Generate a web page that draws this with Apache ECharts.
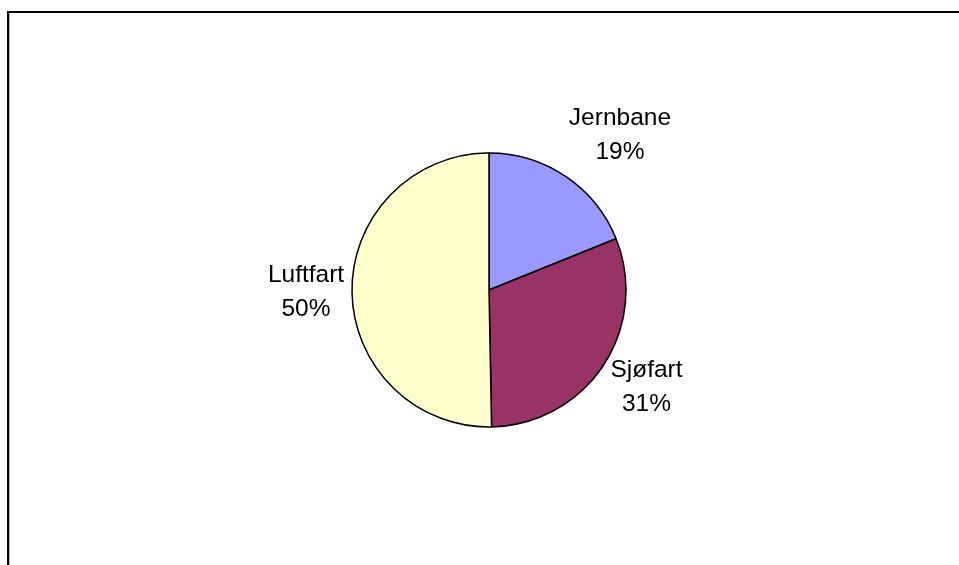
<!DOCTYPE html>
<html>
<head>
<meta charset="utf-8">
<script src="https://cdn.jsdelivr.net/npm/echarts@6/dist/echarts.min.js"></script>
<style>
html,body{margin:0;padding:0;background:#fff;}
#main{width:959px;height:565px;}
</style>
</head>
<body>
<div id="main"></div>
<script>
const categories = ['Jernbane', 'Sjøfart', 'Luftfart'];
const values = [18.9, 30.8, 50.3];
const colors = ['#9999FF', '#993366', '#FFFFCC'];
// label nudges (style only)
const labelDx = [28, 4, 1];
const labelDy = [-2, -4, 1];

const chart = echarts.init(document.getElementById('main'), null, {renderer: 'canvas'});
chart.setOption({
  backgroundColor: '#ffffff',
  animation: false,
  graphic: [
    {type: 'line', shape: {x1: 7, y1: 12, x2: 959, y2: 12}, style: {stroke: '#000', lineWidth: 2}},
    {type: 'line', shape: {x1: 8, y1: 11, x2: 8, y2: 565}, style: {stroke: '#000', lineWidth: 2}},
    {type: 'line', shape: {x1: 9.5, y1: 13, x2: 9.5, y2: 565}, style: {stroke: '#bbbbbb', lineWidth: 1}}
  ],
  series: [{
    type: 'pie',
    center: [489, 290],
    radius: 137,
    startAngle: 90,
    clockwise: true,
    percentPrecision: 0,
    avoidLabelOverlap: false,
    itemStyle: {borderColor: '#000', borderWidth: 1.5},
    emphasis: {disabled: true},
    label: {
      show: true,
      position: 'outside',
      formatter: '{b}\n{d}%',
      fontFamily: 'Liberation Sans, Arial, sans-serif',
      fontSize: 24.5,
      lineHeight: 34,
      color: '#000',
      distanceToLabelLine: 0
    },
    labelLine: {show: false, length: 47, length2: 0},
    labelLayout: function (p) {
      return {align: 'center', verticalAlign: 'middle', dx: labelDx[p.dataIndex], dy: labelDy[p.dataIndex]};
    },
    data: categories.map((c, i) => ({name: c, value: values[i], itemStyle: {color: colors[i]}}))
  }]
});
</script>
</body>
</html>
